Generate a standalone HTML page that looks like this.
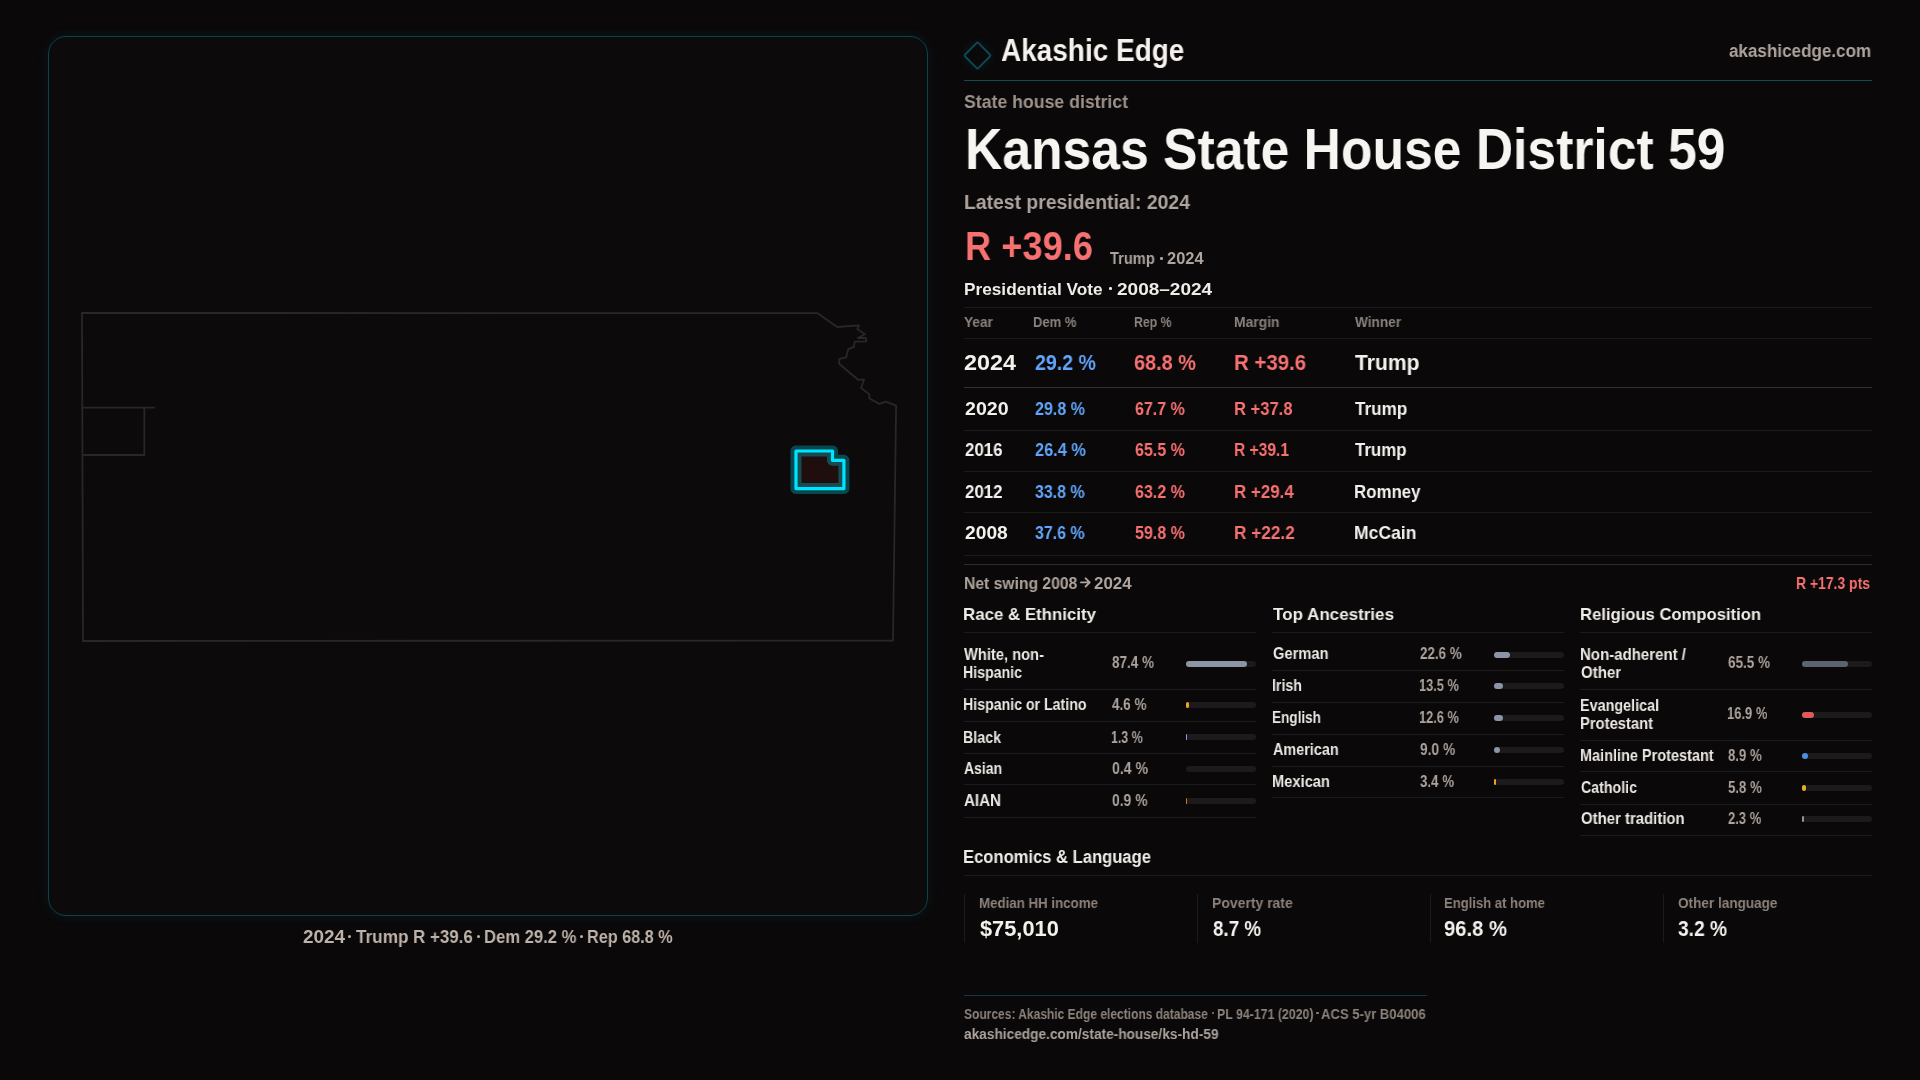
<!DOCTYPE html>
<html><head><meta charset="utf-8"><title>Kansas State House District 59</title>
<style>
*{margin:0;padding:0;box-sizing:border-box}
html,body{width:1920px;height:1080px;overflow:hidden;background:#0a0809}
body{position:relative;font-family:"Liberation Sans",sans-serif}
.t{position:absolute;white-space:nowrap;transform-origin:0 0;will-change:transform}
.card{position:absolute;left:48px;top:36px;width:880px;height:880px;border:1px solid #0b4350;border-radius:18px;background:#0c0a0b;box-shadow:0 0 14px rgba(0,229,255,0.075)}
.hl{position:absolute;height:1px}
.bar{position:absolute;height:6px;border-radius:3px;background:#1c1a1b}
.fill{position:absolute;left:0;top:0;height:6px;border-radius:3px}
</style></head>
<body>
<div class="card"></div>
<svg style="position:absolute;left:0;top:0" width="1920" height="1080" viewBox="0 0 1920 1080">
<path d="M82,313 L817.2,313.1 L837.2,327 L859.1,325.3 L857.2,329.1 L865,334.2 L857.8,338 L865.6,337.8 L866.4,341.3 L854.8,341.7 L853.7,347.2 L848.3,349.1 L846.1,357.4 L839.4,358.9 L839.1,363.7 L858.1,379.8 L864.1,379.4 L861.1,388 L869.4,394.4 L869.2,398.3 L879.2,403.9 L885.8,401.7 L896.1,405.6 L893,640.5 L83,641 L82,313 Z" fill="none" stroke="#2b2726" stroke-width="1.8" stroke-linejoin="round"/>
<path d="M82,407.6 L155,407.6 M144.3,407.6 L144.3,455 L82.5,455" fill="none" stroke="#2b2726" stroke-width="1.8"/>
<path d="M796,451 L832.6,451 L832.4,460.3 L843.9,460.3 L843.9,488.6 L796,488.6 Z" fill="#200e0f" stroke="#00e5ff" stroke-opacity="0.28" stroke-width="11" stroke-linejoin="round"/>
<path d="M796,451 L832.6,451 L832.4,460.3 L843.9,460.3 L843.9,488.6 L796,488.6 Z" fill="none" stroke="#00e5ff" stroke-width="3.2" stroke-linejoin="round"/>
</svg>
<div style="position:absolute;left:967px;top:45px;width:21px;height:21px;transform:rotate(45deg);border:2px solid #0c4955;border-radius:2.5px;box-shadow:0 0 12px rgba(0,200,230,0.10)"></div>
<svg style="position:absolute;left:0;top:0" width="1920" height="1080"><path d="M1081,582.4 L1089.5,582.4 M1085.6,578.3 L1089.7,582.4 L1085.6,586.5" fill="none" stroke="#afa49d" stroke-width="1.9" stroke-linecap="round" stroke-linejoin="round"/></svg>
<div class="hl" style="top:80px;left:964px;width:908px;background:#124a55"></div><div class="hl" style="top:307px;left:964px;width:908px;background:#1d1a1b"></div><div class="hl" style="top:338px;left:964px;width:908px;background:#1d1a1b"></div><div class="hl" style="top:387px;left:964px;width:908px;background:#333132"></div><div class="hl" style="top:430px;left:964px;width:908px;background:#1d1a1b"></div><div class="hl" style="top:471px;left:964px;width:908px;background:#1d1a1b"></div><div class="hl" style="top:512px;left:964px;width:908px;background:#1d1a1b"></div><div class="hl" style="top:555px;left:964px;width:908px;background:#1d1a1b"></div><div class="hl" style="top:564px;left:964px;width:908px;background:#2e2b2b"></div><div class="hl" style="top:632px;left:964px;width:292px;background:#1d1a1b"></div><div class="hl" style="top:632px;left:1272px;width:292px;background:#1d1a1b"></div><div class="hl" style="top:632px;left:1580px;width:292px;background:#1d1a1b"></div><div class="hl" style="top:689px;left:964px;width:292px;background:#1d1a1b"></div><div class="hl" style="top:721px;left:964px;width:292px;background:#1d1a1b"></div><div class="hl" style="top:753px;left:964px;width:292px;background:#1d1a1b"></div><div class="hl" style="top:784px;left:964px;width:292px;background:#1d1a1b"></div><div class="hl" style="top:817px;left:964px;width:292px;background:#1d1a1b"></div><div class="hl" style="top:670px;left:1272px;width:292px;background:#1d1a1b"></div><div class="hl" style="top:702px;left:1272px;width:292px;background:#1d1a1b"></div><div class="hl" style="top:734px;left:1272px;width:292px;background:#1d1a1b"></div><div class="hl" style="top:766px;left:1272px;width:292px;background:#1d1a1b"></div><div class="hl" style="top:797px;left:1272px;width:292px;background:#1d1a1b"></div><div class="hl" style="top:689px;left:1580px;width:292px;background:#1d1a1b"></div><div class="hl" style="top:740px;left:1580px;width:292px;background:#1d1a1b"></div><div class="hl" style="top:771px;left:1580px;width:292px;background:#1d1a1b"></div><div class="hl" style="top:804px;left:1580px;width:292px;background:#1d1a1b"></div><div class="hl" style="top:835px;left:1580px;width:292px;background:#1d1a1b"></div><div class="hl" style="top:875px;left:964px;width:908px;background:#1d1a1b"></div><div class="hl" style="top:995px;left:964px;width:463px;background:#0e3a42"></div><div style="position:absolute;left:964px;top:894px;width:1px;height:49px;background:#1d1a1b"></div><div style="position:absolute;left:1197px;top:894px;width:1px;height:49px;background:#1d1a1b"></div><div style="position:absolute;left:1430px;top:894px;width:1px;height:49px;background:#1d1a1b"></div><div style="position:absolute;left:1663px;top:894px;width:1px;height:49px;background:#1d1a1b"></div>
<div class="bar" style="left:1186px;top:661px;width:70px"><div class="fill" style="width:61.18px;background:#8b95a5"></div></div><div class="bar" style="left:1186px;top:702px;width:70px"><div class="fill" style="width:3.22px;background:#f0a020"></div></div><div class="bar" style="left:1186px;top:734px;width:70px"><div class="fill" style="width:0.91px;background:#a78bfa"></div></div><div class="bar" style="left:1186px;top:766px;width:70px"></div><div class="bar" style="left:1186px;top:798px;width:70px"><div class="fill" style="width:0.63px;background:#d97706"></div></div><div class="bar" style="left:1494px;top:651.5px;width:70px"><div class="fill" style="width:15.82px;background:#8b95a5"></div></div><div class="bar" style="left:1494px;top:683.4px;width:70px"><div class="fill" style="width:9.45px;background:#8b95a5"></div></div><div class="bar" style="left:1494px;top:715.2px;width:70px"><div class="fill" style="width:8.82px;background:#8b95a5"></div></div><div class="bar" style="left:1494px;top:747.2px;width:70px"><div class="fill" style="width:6.30px;background:#8b95a5"></div></div><div class="bar" style="left:1494px;top:779px;width:70px"><div class="fill" style="width:2.38px;background:#f0a020"></div></div><div class="bar" style="left:1802px;top:661px;width:70px"><div class="fill" style="width:45.85px;background:#5c6370"></div></div><div class="bar" style="left:1802px;top:712px;width:70px"><div class="fill" style="width:11.83px;background:#e05a5a"></div></div><div class="bar" style="left:1802px;top:752.6px;width:70px"><div class="fill" style="width:6.23px;background:#4a90e2"></div></div><div class="bar" style="left:1802px;top:784.6px;width:70px"><div class="fill" style="width:4.06px;background:#e0b030"></div></div><div class="bar" style="left:1802px;top:815.7px;width:70px"><div class="fill" style="width:1.61px;background:#8b95a5"></div></div>
<div style="position:absolute;left:1160.30px;top:257.40px;width:2.4px;height:2.4px;border-radius:50%;background:#afa49d"></div><div style="position:absolute;left:1109.40px;top:287.00px;width:2.6px;height:2.6px;border-radius:50%;background:#f0ece7"></div><div style="position:absolute;left:1212.25px;top:1012.35px;width:2.1px;height:2.1px;border-radius:50%;background:#8c827b"></div><div style="position:absolute;left:1316.45px;top:1012.35px;width:2.1px;height:2.1px;border-radius:50%;background:#8c827b"></div><div style="position:absolute;left:347.90px;top:934.60px;width:3px;height:3px;border-radius:50%;background:#bdb2aa"></div><div style="position:absolute;left:477.30px;top:934.60px;width:3px;height:3px;border-radius:50%;background:#bdb2aa"></div><div style="position:absolute;left:580.30px;top:934.60px;width:3px;height:3px;border-radius:50%;background:#bdb2aa"></div>
<div class="t" style="left:1000.80px;top:35.82px;font-size:30.81px;line-height:30.81px;font-weight:700;color:#f5f1ec;transform:scaleX(0.9079);">Akashic Edge</div>
<div class="t" style="left:1729.30px;top:41.78px;font-size:18.22px;line-height:18.22px;font-weight:700;color:#afa49d;transform:scaleX(0.9367);">akashicedge.com</div>
<div class="t" style="left:963.70px;top:93.03px;font-size:18.75px;line-height:18.75px;font-weight:700;color:#9d928b;transform:scaleX(0.9431);">State house district</div>
<div class="t" style="left:965.30px;top:120.85px;font-size:57.70px;line-height:57.70px;font-weight:700;color:#f7f5f2;transform:scaleX(0.8951);">Kansas State House District 59</div>
<div class="t" style="left:964.00px;top:191.57px;font-size:20.35px;line-height:20.35px;font-weight:700;color:#aea49d;transform:scaleX(0.9513);">Latest presidential: 2024</div>
<div class="t" style="left:965.20px;top:226.72px;font-size:40.26px;line-height:40.26px;font-weight:700;color:#f87171;transform:scaleX(0.9005);">R +39.6</div>
<div class="t" style="left:1110.30px;top:250.79px;font-size:15.84px;line-height:15.84px;font-weight:700;color:#afa49d;transform:scaleX(0.9258);">Trump</div>
<div class="t" style="left:1167.30px;top:250.79px;font-size:15.84px;line-height:15.84px;font-weight:700;color:#afa49d;transform:scaleX(1.0383);">2024</div>
<div class="t" style="left:964.10px;top:281.65px;font-size:16.72px;line-height:16.72px;font-weight:700;color:#f0ece7;transform:scaleX(1.0314);">Presidential Vote</div>
<div class="t" style="left:1116.70px;top:281.65px;font-size:16.72px;line-height:16.72px;font-weight:700;color:#f0ece7;transform:scaleX(1.1380);">2008–2024</div>
<div class="t" style="left:964.30px;top:315.47px;font-size:14.10px;line-height:14.10px;font-weight:700;color:#8c827b;transform:scaleX(0.9725);">Year</div>
<div class="t" style="left:1033.30px;top:315.47px;font-size:14.10px;line-height:14.10px;font-weight:700;color:#8c827b;transform:scaleX(0.9221);">Dem %</div>
<div class="t" style="left:1133.70px;top:315.47px;font-size:14.10px;line-height:14.10px;font-weight:700;color:#8c827b;transform:scaleX(0.8700);">Rep %</div>
<div class="t" style="left:1233.70px;top:315.47px;font-size:14.10px;line-height:14.10px;font-weight:700;color:#8c827b;transform:scaleX(0.9853);">Margin</div>
<div class="t" style="left:1354.70px;top:315.47px;font-size:14.10px;line-height:14.10px;font-weight:700;color:#8c827b;transform:scaleX(0.9676);">Winner</div>
<div class="t" style="left:963.80px;top:352.28px;font-size:22.53px;line-height:22.53px;font-weight:700;color:#f4f1ed;transform:scaleX(1.0377);">2024</div>
<div class="t" style="left:1034.80px;top:352.28px;font-size:22.53px;line-height:22.53px;font-weight:700;color:#60a5fa;transform:scaleX(0.8701);">29.2 %</div>
<div class="t" style="left:1133.80px;top:352.28px;font-size:22.53px;line-height:22.53px;font-weight:700;color:#f87171;transform:scaleX(0.8842);">68.8 %</div>
<div class="t" style="left:1233.80px;top:352.28px;font-size:22.53px;line-height:22.53px;font-weight:700;color:#f87171;transform:scaleX(0.9059);">R +39.6</div>
<div class="t" style="left:1354.80px;top:352.28px;font-size:22.53px;line-height:22.53px;font-weight:700;color:#f4f1ed;transform:scaleX(0.9375);">Trump</div>
<div class="t" style="left:964.80px;top:399.60px;font-size:18.31px;line-height:18.31px;font-weight:700;color:#f4f1ed;transform:scaleX(1.0697);">2020</div>
<div class="t" style="left:1034.80px;top:399.60px;font-size:18.31px;line-height:18.31px;font-weight:700;color:#60a5fa;transform:scaleX(0.8768);">29.8 %</div>
<div class="t" style="left:1134.80px;top:399.60px;font-size:18.31px;line-height:18.31px;font-weight:700;color:#f87171;transform:scaleX(0.8728);">67.7 %</div>
<div class="t" style="left:1233.80px;top:399.60px;font-size:18.31px;line-height:18.31px;font-weight:700;color:#f87171;transform:scaleX(0.9056);">R +37.8</div>
<div class="t" style="left:1354.80px;top:399.60px;font-size:18.31px;line-height:18.31px;font-weight:700;color:#f4f1ed;transform:scaleX(0.9343);">Trump</div>
<div class="t" style="left:964.80px;top:440.50px;font-size:18.31px;line-height:18.31px;font-weight:700;color:#f4f1ed;transform:scaleX(0.9224);">2016</div>
<div class="t" style="left:1034.80px;top:440.50px;font-size:18.31px;line-height:18.31px;font-weight:700;color:#60a5fa;transform:scaleX(0.8924);">26.4 %</div>
<div class="t" style="left:1134.80px;top:440.50px;font-size:18.31px;line-height:18.31px;font-weight:700;color:#f87171;transform:scaleX(0.8748);">65.5 %</div>
<div class="t" style="left:1233.80px;top:440.50px;font-size:18.31px;line-height:18.31px;font-weight:700;color:#f87171;transform:scaleX(0.8510);">R +39.1</div>
<div class="t" style="left:1354.80px;top:440.50px;font-size:18.31px;line-height:18.31px;font-weight:700;color:#f4f1ed;transform:scaleX(0.9209);">Trump</div>
<div class="t" style="left:964.80px;top:482.70px;font-size:18.31px;line-height:18.31px;font-weight:700;color:#f4f1ed;transform:scaleX(0.9224);">2012</div>
<div class="t" style="left:1034.80px;top:482.70px;font-size:18.31px;line-height:18.31px;font-weight:700;color:#60a5fa;transform:scaleX(0.8685);">33.8 %</div>
<div class="t" style="left:1134.80px;top:482.70px;font-size:18.31px;line-height:18.31px;font-weight:700;color:#f87171;transform:scaleX(0.8748);">63.2 %</div>
<div class="t" style="left:1233.80px;top:482.70px;font-size:18.31px;line-height:18.31px;font-weight:700;color:#f87171;transform:scaleX(0.9247);">R +29.4</div>
<div class="t" style="left:1353.80px;top:482.70px;font-size:18.31px;line-height:18.31px;font-weight:700;color:#f4f1ed;transform:scaleX(0.9210);">Romney</div>
<div class="t" style="left:964.80px;top:524.40px;font-size:18.31px;line-height:18.31px;font-weight:700;color:#f4f1ed;transform:scaleX(1.0520);">2008</div>
<div class="t" style="left:1034.80px;top:524.40px;font-size:18.31px;line-height:18.31px;font-weight:700;color:#60a5fa;transform:scaleX(0.8685);">37.6 %</div>
<div class="t" style="left:1134.80px;top:524.40px;font-size:18.31px;line-height:18.31px;font-weight:700;color:#f87171;transform:scaleX(0.8748);">59.8 %</div>
<div class="t" style="left:1233.80px;top:524.40px;font-size:18.31px;line-height:18.31px;font-weight:700;color:#f87171;transform:scaleX(0.9404);">R +22.2</div>
<div class="t" style="left:1353.80px;top:524.40px;font-size:18.31px;line-height:18.31px;font-weight:700;color:#f4f1ed;transform:scaleX(0.9584);">McCain</div>
<div class="t" style="left:963.80px;top:574.82px;font-size:16.28px;line-height:16.28px;font-weight:700;color:#afa49d;transform:scaleX(0.9635);">Net swing 2008</div>
<div class="t" style="left:1094.40px;top:574.82px;font-size:16.28px;line-height:16.28px;font-weight:700;color:#afa49d;transform:scaleX(1.0397);">2024</div>
<div class="t" style="left:1796.30px;top:575.77px;font-size:15.99px;line-height:15.99px;font-weight:700;color:#f87171;transform:scaleX(0.8721);">R +17.3 pts</div>
<div class="t" style="left:963.30px;top:606.48px;font-size:17.15px;line-height:17.15px;font-weight:700;color:#f0ece7;transform:scaleX(0.9829);">Race &amp; Ethnicity</div>
<div class="t" style="left:1272.70px;top:606.48px;font-size:17.15px;line-height:17.15px;font-weight:700;color:#f0ece7;transform:scaleX(0.9925);">Top Ancestries</div>
<div class="t" style="left:1579.50px;top:606.48px;font-size:17.15px;line-height:17.15px;font-weight:700;color:#f0ece7;transform:scaleX(0.9697);">Religious Composition</div>
<div class="t" style="left:963.30px;top:848.84px;font-size:17.44px;line-height:17.44px;font-weight:700;color:#f0ece7;transform:scaleX(0.9510);">Economics &amp; Language</div>
<div class="t" style="left:964.30px;top:646.51px;font-size:15.70px;line-height:15.70px;font-weight:700;color:#ece7e2;transform:scaleX(0.9361);">White, non-</div>
<div class="t" style="left:963.30px;top:664.91px;font-size:15.70px;line-height:15.70px;font-weight:700;color:#ece7e2;transform:scaleX(0.9016);">Hispanic</div>
<div class="t" style="left:963.30px;top:696.91px;font-size:15.70px;line-height:15.70px;font-weight:700;color:#ece7e2;transform:scaleX(0.9026);">Hispanic or Latino</div>
<div class="t" style="left:963.30px;top:729.51px;font-size:15.70px;line-height:15.70px;font-weight:700;color:#ece7e2;transform:scaleX(0.9073);">Black</div>
<div class="t" style="left:964.30px;top:761.01px;font-size:15.70px;line-height:15.70px;font-weight:700;color:#ece7e2;transform:scaleX(0.8889);">Asian</div>
<div class="t" style="left:964.30px;top:792.71px;font-size:15.70px;line-height:15.70px;font-weight:700;color:#ece7e2;transform:scaleX(0.9648);">AIAN</div>
<div class="t" style="left:1112.30px;top:655.11px;font-size:15.70px;line-height:15.70px;font-weight:700;color:#ada39c;transform:scaleX(0.8589);">87.4 %</div>
<div class="t" style="left:1112.30px;top:696.91px;font-size:15.70px;line-height:15.70px;font-weight:700;color:#ada39c;transform:scaleX(0.8585);">4.6 %</div>
<div class="t" style="left:1111.30px;top:729.51px;font-size:15.70px;line-height:15.70px;font-weight:700;color:#ada39c;transform:scaleX(0.7877);">1.3 %</div>
<div class="t" style="left:1112.30px;top:761.01px;font-size:15.70px;line-height:15.70px;font-weight:700;color:#ada39c;transform:scaleX(0.8983);">0.4 %</div>
<div class="t" style="left:1112.30px;top:792.71px;font-size:15.70px;line-height:15.70px;font-weight:700;color:#ada39c;transform:scaleX(0.8842);">0.9 %</div>
<div class="t" style="left:978.80px;top:895.18px;font-size:15.26px;line-height:15.26px;font-weight:700;color:#8c827b;transform:scaleX(0.8717);">Median HH income</div>
<div class="t" style="left:1211.80px;top:895.18px;font-size:15.26px;line-height:15.26px;font-weight:700;color:#8c827b;transform:scaleX(0.9158);">Poverty rate</div>
<div class="t" style="left:1444.30px;top:895.18px;font-size:15.26px;line-height:15.26px;font-weight:700;color:#8c827b;transform:scaleX(0.8569);">English at home</div>
<div class="t" style="left:1678.30px;top:895.18px;font-size:15.26px;line-height:15.26px;font-weight:700;color:#8c827b;transform:scaleX(0.8891);">Other language</div>
<div class="t" style="left:979.80px;top:918.44px;font-size:21.80px;line-height:21.80px;font-weight:700;color:#f4f1ed;transform:scaleX(0.9963);">$75,010</div>
<div class="t" style="left:1212.80px;top:918.44px;font-size:21.80px;line-height:21.80px;font-weight:700;color:#f4f1ed;transform:scaleX(0.8632);">8.7 %</div>
<div class="t" style="left:1444.30px;top:918.44px;font-size:21.80px;line-height:21.80px;font-weight:700;color:#f4f1ed;transform:scaleX(0.9284);">96.8 %</div>
<div class="t" style="left:1678.30px;top:918.44px;font-size:21.80px;line-height:21.80px;font-weight:700;color:#f4f1ed;transform:scaleX(0.8811);">3.2 %</div>
<div class="t" style="left:964.30px;top:1007.91px;font-size:13.81px;line-height:13.81px;font-weight:700;color:#8c827b;transform:scaleX(0.8703);">Sources: Akashic Edge elections database</div>
<div class="t" style="left:1216.70px;top:1007.91px;font-size:13.81px;line-height:13.81px;font-weight:700;color:#8c827b;transform:scaleX(0.8948);">PL 94-171 (2020)</div>
<div class="t" style="left:1321.30px;top:1007.91px;font-size:13.81px;line-height:13.81px;font-weight:700;color:#8c827b;transform:scaleX(0.9481);">ACS 5-yr B04006</div>
<div class="t" style="left:964.30px;top:1028.16px;font-size:13.81px;line-height:13.81px;font-weight:700;color:#ada39c;transform:scaleX(0.9908);">akashicedge.com/state-house/ks-hd-59</div>
<div class="t" style="left:302.50px;top:927.60px;font-size:18.90px;line-height:18.90px;font-weight:700;color:#bdb2aa;transform:scaleX(0.9944);">2024</div>
<div class="t" style="left:355.90px;top:927.60px;font-size:18.90px;line-height:18.90px;font-weight:700;color:#bdb2aa;transform:scaleX(0.9080);">Trump</div>
<div class="t" style="left:413.30px;top:927.60px;font-size:18.90px;line-height:18.90px;font-weight:700;color:#bdb2aa;transform:scaleX(0.8959);">R +39.6</div>
<div class="t" style="left:483.90px;top:927.60px;font-size:18.90px;line-height:18.90px;font-weight:700;color:#bdb2aa;transform:scaleX(0.8797);">Dem 29.2 %</div>
<div class="t" style="left:587.30px;top:927.60px;font-size:18.90px;line-height:18.90px;font-weight:700;color:#bdb2aa;transform:scaleX(0.8581);">Rep 68.8 %</div>
<div class="t" style="left:1272.70px;top:645.81px;font-size:15.70px;line-height:15.70px;font-weight:700;color:#ece7e2;transform:scaleX(0.9363);">German</div>
<div class="t" style="left:1420.40px;top:645.81px;font-size:15.70px;line-height:15.70px;font-weight:700;color:#ada39c;transform:scaleX(0.8513);">22.6 %</div>
<div class="t" style="left:1271.70px;top:678.01px;font-size:15.70px;line-height:15.70px;font-weight:700;color:#ece7e2;transform:scaleX(0.9037);">Irish</div>
<div class="t" style="left:1419.40px;top:678.01px;font-size:15.70px;line-height:15.70px;font-weight:700;color:#ada39c;transform:scaleX(0.8148);">13.5 %</div>
<div class="t" style="left:1271.70px;top:709.91px;font-size:15.70px;line-height:15.70px;font-weight:700;color:#ece7e2;transform:scaleX(0.8638);">English</div>
<div class="t" style="left:1419.40px;top:709.91px;font-size:15.70px;line-height:15.70px;font-weight:700;color:#ada39c;transform:scaleX(0.8148);">12.6 %</div>
<div class="t" style="left:1272.70px;top:742.11px;font-size:15.70px;line-height:15.70px;font-weight:700;color:#ece7e2;transform:scaleX(0.9180);">American</div>
<div class="t" style="left:1420.40px;top:742.11px;font-size:15.70px;line-height:15.70px;font-weight:700;color:#ada39c;transform:scaleX(0.8768);">9.0 %</div>
<div class="t" style="left:1271.70px;top:773.61px;font-size:15.70px;line-height:15.70px;font-weight:700;color:#ece7e2;transform:scaleX(0.9362);">Mexican</div>
<div class="t" style="left:1420.40px;top:773.61px;font-size:15.70px;line-height:15.70px;font-weight:700;color:#ada39c;transform:scaleX(0.8477);">3.4 %</div>
<div class="t" style="left:1579.50px;top:646.51px;font-size:15.70px;line-height:15.70px;font-weight:700;color:#ece7e2;transform:scaleX(0.9572);">Non-adherent /</div>
<div class="t" style="left:1580.50px;top:665.11px;font-size:15.70px;line-height:15.70px;font-weight:700;color:#ece7e2;transform:scaleX(0.9594);">Other</div>
<div class="t" style="left:1579.50px;top:697.51px;font-size:15.70px;line-height:15.70px;font-weight:700;color:#ece7e2;transform:scaleX(0.9160);">Evangelical</div>
<div class="t" style="left:1579.50px;top:716.11px;font-size:15.70px;line-height:15.70px;font-weight:700;color:#ece7e2;transform:scaleX(0.9420);">Protestant</div>
<div class="t" style="left:1579.50px;top:748.31px;font-size:15.70px;line-height:15.70px;font-weight:700;color:#ece7e2;transform:scaleX(0.9234);">Mainline Protestant</div>
<div class="t" style="left:1580.50px;top:780.31px;font-size:15.70px;line-height:15.70px;font-weight:700;color:#ece7e2;transform:scaleX(0.9046);">Catholic</div>
<div class="t" style="left:1580.50px;top:810.91px;font-size:15.70px;line-height:15.70px;font-weight:700;color:#ece7e2;transform:scaleX(0.9515);">Other tradition</div>
<div class="t" style="left:1728.30px;top:654.91px;font-size:15.70px;line-height:15.70px;font-weight:700;color:#ada39c;transform:scaleX(0.8594);">65.5 %</div>
<div class="t" style="left:1727.30px;top:705.91px;font-size:15.70px;line-height:15.70px;font-weight:700;color:#ada39c;transform:scaleX(0.8254);">16.9 %</div>
<div class="t" style="left:1728.30px;top:748.31px;font-size:15.70px;line-height:15.70px;font-weight:700;color:#ada39c;transform:scaleX(0.8386);">8.9 %</div>
<div class="t" style="left:1728.30px;top:780.31px;font-size:15.70px;line-height:15.70px;font-weight:700;color:#ada39c;transform:scaleX(0.8401);">5.8 %</div>
<div class="t" style="left:1728.30px;top:810.91px;font-size:15.70px;line-height:15.70px;font-weight:700;color:#ada39c;transform:scaleX(0.8284);">2.3 %</div>
</body></html>
